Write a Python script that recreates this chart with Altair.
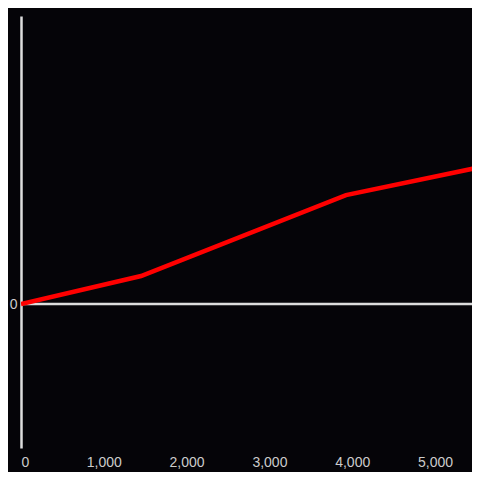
import altair as alt
import pandas as pd

xs = [0, 1450, 3925, 5560]
ys = [0, 9.7, 37.8, 47.6]
x_ticks = [0, 1000, 2000, 3000, 4000, 5000]

df = pd.DataFrame({"x": xs, "y": ys})
zero = pd.DataFrame({"y": [0]})

x_scale = alt.Scale(domain=[0, 5447], nice=False, zero=False)
y_scale = alt.Scale(domain=[-50, 100], nice=False)

line = alt.Chart(df).mark_line(color="#ff0000", strokeWidth=4.5, clip=True).encode(
    x=alt.X("x:Q", scale=x_scale,
            axis=alt.Axis(values=x_ticks, format=",.0f", title=None, domain=False,
                          ticks=False, grid=False, labelPadding=7,
                          labelColor="#cccccc", labelFontSize=14)),
    y=alt.Y("y:Q", scale=y_scale,
            axis=alt.Axis(values=[0], title=None, domain=True, domainColor="#dddddd",
                          domainWidth=2.5, ticks=False, grid=False, labelPadding=4,
                          labelColor="#cccccc", labelFontSize=14)),
)

rule = alt.Chart(zero).mark_rule(color="#dddddd", strokeWidth=2.5).encode(
    y=alt.Y("y:Q", scale=y_scale)
)

chart = alt.layer(rule, line).properties(
    width=451, height=432,
    background="#050408",
    padding={"left": 13, "top": 8, "right": 0, "bottom": 24},
    autosize=alt.AutoSizeParams(type="none"),
).configure_view(stroke=None)

chart.save("out.html", embed_options={"renderer": "svg", "actions": False})
